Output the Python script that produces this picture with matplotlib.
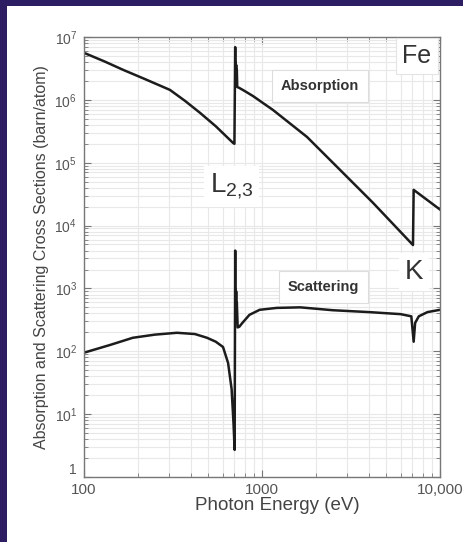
import matplotlib

matplotlib.use("Agg")
import matplotlib.pyplot as plt
from matplotlib.patches import Rectangle
from matplotlib.ticker import FixedFormatter, FixedLocator, LogLocator, NullFormatter

# Fer : section efficace d'absorption (barn/atome)
abs_energy = [100, 130, 166, 220, 304, 370, 449, 550, 687, 700, 707, 709, 711, 713, 716,
              719, 722, 726, 745, 800, 890, 1153, 1790, 2743, 4204, 7050, 7112, 10000]
abs_sigma = [5.6e6, 4.1e6, 3.0e6, 2.14e6, 1.44e6, 9.6e5, 6.2e5, 3.8e5, 2.07e5, 2.0e5,
             6.9e6, 2.0e6, 4.0e6, 1.8e6, 3.6e6, 1.7e6, 3.0e6, 1.6e6, 1.55e6, 1.38e6,
             1.15e6, 6.9e5, 2.57e5, 7.7e4, 2.3e4, 4.9e3, 3.7e4, 1.8e4]

# Fer : section efficace de diffusion (barn/atome)
scat_energy = [100, 140, 188, 250, 333, 420, 491, 550, 604, 645, 675, 692, 702, 707, 708,
               711, 713, 716, 719, 722, 730, 745, 776, 850, 970, 1210, 1640, 2500, 4000,
               6000, 6900, 7112, 7250, 7600, 8500, 10000]
scat_sigma = [95, 126, 164, 184, 197, 188, 164, 142, 117, 65, 25, 7, 2.7, 4000, 800, 950,
              400, 900, 300, 600, 240, 245, 283, 380, 457, 490, 500, 450, 420, 390, 360,
              142, 283, 360, 420, 457]

x_ticks = [100, 1000, 10000]
x_tick_labels = ["100", "1000", "10,000"]
y_ticks = [1, 1e1, 1e2, 1e3, 1e4, 1e5, 1e6, 1e7]
y_tick_labels = ["1"] + [rf"$10^{{{k}}}$" for k in range(1, 8)]

plt.rcParams["font.family"] = ["Liberation Sans", "DejaVu Sans"]
plt.rcParams["mathtext.fontset"] = "custom"
plt.rcParams["mathtext.rm"] = "Liberation Sans"
plt.rcParams["mathtext.it"] = "Liberation Sans"

W, H = 464, 542
fig = plt.figure(figsize=(W / 100, H / 100), dpi=100)
fig.patch.set_facecolor("#2d1d62")
fig.patches.append(Rectangle((7 / W, 0), 1, 1 - 6 / H, transform=fig.transFigure,
                             facecolor="white", edgecolor="none", zorder=-1))

ax = fig.add_axes([84 / W, 1 - 477 / H, 356 / W, 440 / H])
ax.set_xscale("log")
ax.set_yscale("log")
ax.set_xlim(100, 10000)
ax.set_ylim(1, 1e7)

line_kw = dict(color="#1c1c1c", linewidth=1.8, solid_joinstyle="round")
ax.plot(abs_energy, abs_sigma, **line_kw)
ax.plot(scat_energy, scat_sigma, **line_kw)

ax.xaxis.set_major_locator(FixedLocator(x_ticks))
ax.xaxis.set_major_formatter(FixedFormatter(x_tick_labels))
ax.yaxis.set_major_locator(FixedLocator(y_ticks))
ax.yaxis.set_major_formatter(FixedFormatter(y_tick_labels))
ax.xaxis.set_minor_locator(LogLocator(base=10, subs=range(2, 10)))
ax.yaxis.set_minor_locator(LogLocator(base=10, subs=range(2, 10), numticks=20))
ax.xaxis.set_minor_formatter(NullFormatter())
ax.yaxis.set_minor_formatter(NullFormatter())

ax.grid(which="both", color="#e8e8e8", linewidth=0.8)
ax.tick_params(which="both", direction="in", top=True, right=True, color="#777777")
ax.tick_params(which="major", length=5)
ax.tick_params(which="minor", length=3)
ax.tick_params(axis="x", labelsize=11, labelcolor="#555555", pad=4)
ax.tick_params(axis="y", labelsize=10, labelcolor="#555555", pad=5)
ax.get_yticklabels()[0].set_verticalalignment("bottom")
for spine in ax.spines.values():
    spine.set_color("#777777")
    spine.set_linewidth(1.0)

ax.set_xlabel("Photon Energy (eV)", fontsize=13.5, color="#444444")
ax.xaxis.set_label_coords(0.542, -0.046)
ax.set_ylabel("Absorption and Scattering Cross Sections (barn/atom)", fontsize=11.5,
              color="#444444", labelpad=4)

box_kw = dict(boxstyle="square,pad=0.6", facecolor="white", edgecolor="#dddddd", linewidth=0.8)
ax.text(0.663, 0.889, "Absorption", transform=ax.transAxes, ha="center", va="center",
        fontsize=10.5, fontweight="bold", color="#333333", bbox=box_kw)
ax.text(0.673, 0.432, "Scattering", transform=ax.transAxes, ha="center", va="center",
        fontsize=10.5, fontweight="bold", color="#333333", bbox=box_kw)
ax.text(0.935, 0.957, "Fe", transform=ax.transAxes, ha="center", va="center",
        fontsize=18, color="#333333",
        bbox=dict(boxstyle="square,pad=0.25", facecolor="white", edgecolor="#e4e4e4",
                  linewidth=0.8))
ax.text(0.415, 0.661, r"$\mathrm{L}_{2{,}3}$", transform=ax.transAxes, ha="center",
        va="center", fontsize=20, color="#333333",
        bbox=dict(boxstyle="square,pad=0.2", facecolor="white", edgecolor="none"))
ax.text(0.927, 0.466, "K", transform=ax.transAxes, ha="center", va="center",
        fontsize=20, color="#333333",
        bbox=dict(boxstyle="square,pad=0.2", facecolor="white", edgecolor="none"))

fig.savefig("out.png", dpi=100, facecolor=fig.get_facecolor())
plt.close(fig)
